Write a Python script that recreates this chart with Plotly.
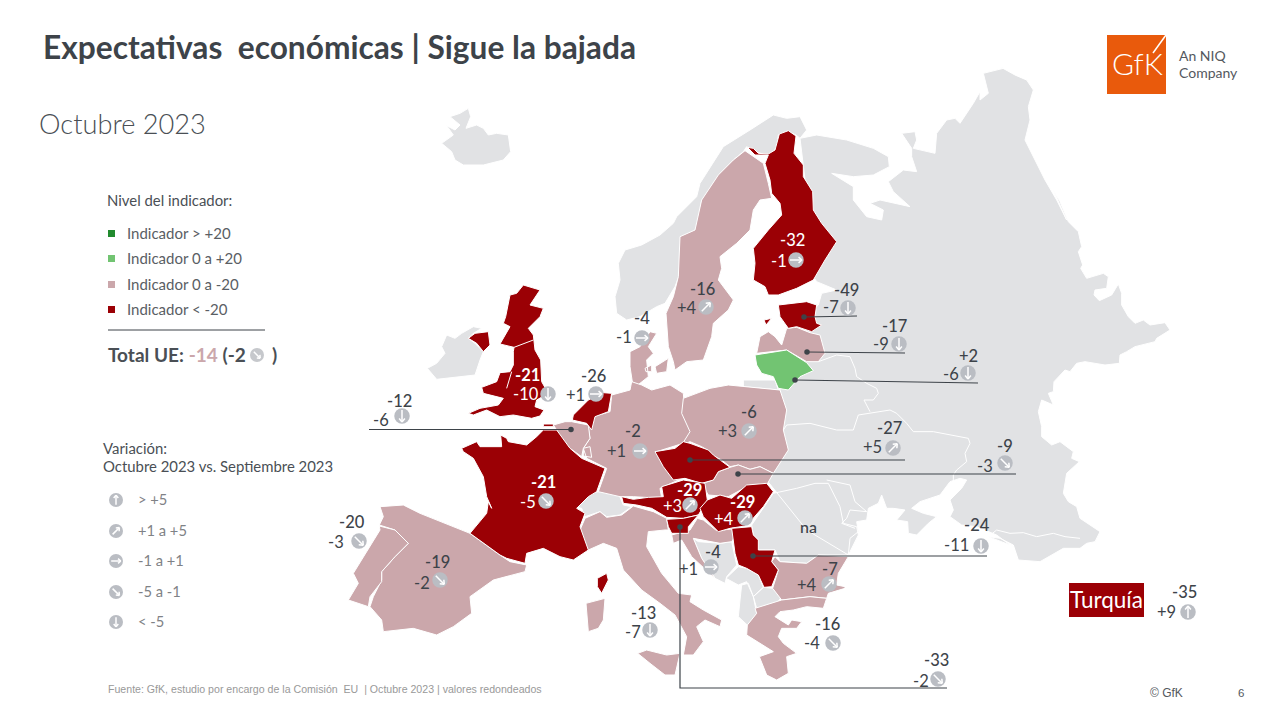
import math
import plotly.graph_objects as go

# ---------- data ----------
countries = ["Finlandia","Suecia","Dinamarca","Reino Unido","Países Bajos","Bélgica","Alemania","Polonia",
             "Estonia","Letonia","Lituania","Chequia","Eslovaquia","Austria","Hungría","Serbia","Bulgaria",
             "Grecia","Eslovenia","Croacia","Italia","Francia","España","Portugal","Turquía"]
index_values = [-32,-16,-4,-21,-26,-12,-2,-6,-49,-17,2,-27,-9,-29,-29,-24,-7,-16,-33,-4,-13,-21,-19,-20,-35]
delta_values = [-1,4,-1,-10,1,-6,1,3,-7,-9,-6,5,-3,3,4,-11,4,-4,-2,1,-7,-5,-2,-3,9]
legend_levels = ["Indicador > +20","Indicador 0 a +20","Indicador 0 a -20","Indicador < -20"]
legend_changes = ["> +5","+1 a +5","-1 a +1","-5 a -1","< -5"]

DARK,PINK,LIGHTG,DEEPG,LAND = "#9B0005","#CBA7AB","#72C472","#218A2E","#E1E2E4"
CIRC,TXT = "#BABDC3","#3D4349"

# centre of value text, centre of delta text, centre of circle
value_xy = [(792,241),(702,290),(642,319),(527,376),(593,377),(399,402),(633,432),(749,413),(846,291),(894,327),
            (968,357),(889,429),(1005,447),(689,491),(742,503),(977,526),(830,570),(827,625),(936,661),(713,553),
            (643,614),(543,483),(437,563),(352,523),(1184,593)]
delta_xy = [(779,262),(687,309),(624,338),(526,395),(575,396),(381,421),(616,452),(727,432),(831,308),(881,345),
            (951,375),(872,448),(985,467),(672,507),(724,520),(956,546),(807,586),(812,644),(921,682),(688,570),
            (633,633),(528,503),(422,584),(336,543),(1166,613)]
circle_xy = [(796,260),(706,307),(642,338),(548,394),(596,394),(402,416),(640,451),(749,431),(848,308),(899,344),
             (968,373),(893,448),(1005,463),(690,505),(745,518),(981,546),(829,584),(833,643),(938,679),(711,567),
             (650,630),(546,501),(440,580),(359,541),(1188,612)]
white_labels = {"Finlandia","Reino Unido","Austria","Hungría","Francia"}
bold_labels = {"Reino Unido","Austria","Hungría","Francia"}

A,B,C,D,E,F,G = (340,60),(340,380),(640,60),(640,380),(980,190),(780,470),(620,440)
def Z(o,pts):
    return [(o[0]+p[0]/3,o[1]+p[1]/3) for p in pts]

iceland = Z(A,[(305,250),(340,225),(320,197),(345,210),(360,195),(330,170),(360,160),(385,145),(392,170),(378,205),(410,195),(430,205),(445,225),(470,220),(505,225),(512,275),(490,300),(430,315),(370,315),(345,300),(335,275)])
ireland = Z(A,[(262,925),(290,910),(315,880),(305,860),(320,825),(345,835),(365,820),(400,800),(425,805),(400,820),(385,835),(405,850),(430,875),(420,900),(405,945),(360,950),(290,958)])
norway = Z(A,[(830,760),(825,710),(840,660),(835,610),(855,570),(905,555),(960,525),(1000,490)]) + Z(C,[(110,470),(170,410),(180,370),(250,260),(330,210),(400,165),(440,175),(480,170),(500,210),(480,235),(468,225),(445,215),(415,225),(410,265),(385,285),(340,275),(320,260),(310,275),(280,300),(240,340),(230,380),(185,420),(170,510),(125,530),(120,640),(105,680),(75,730),(50,740),(0,770),(-40,780),(-70,760)])
east_land = (Z(C,[(480,235),(530,225),(620,240),(700,265),(745,290),(748,320),(700,345),(640,350),(575,340),(640,380),(640,420),(680,470),(725,480),(730,450),(690,430),(720,420),(810,440),(760,395),(745,365),(790,330),(830,335),(815,290),(815,265),(785,220),(825,215),(830,240),(820,265),(885,280),(890,220),(920,180),(945,175),(960,190),(1000,130),(1020,95),(1020,120),(1045,100),(1030,40),(1090,25)])
  + Z((1000,20),[(0,140),(45,165),(80,180),(100,210),(85,260),(90,300),(75,360),(105,420),(135,480),(170,540),(200,600)])
  + Z(E,[(220,0),(240,35),(265,95),(295,125),(305,170),(295,185),(308,225),(302,235),(320,265),(370,250),(385,260),(380,295),(345,300),(342,315),(358,332),(395,315),(415,282),(425,310),(425,345),(445,380),(465,400),(490,390),(510,405),(555,398),(570,420),(530,445),(525,455),(490,465),(465,470),(440,485),(420,495),(418,520),(375,525),(315,515),(290,520),(270,545),(255,540),(222,575),(220,605),(205,610),(220,645),(185,630),(175,665),(185,710),(185,740),(215,765),(240,755),(280,785),(275,805),(298,815),(260,850),(250,910),(265,935),(290,950),(300,985),(360,1025),(345,1055),(320,1060),(300,1075),(250,1075),(180,1115),(115,1110),(100,1065),(60,1045),(25,1040)])
  + Z(F,[(690,225),(650,195),(590,170),(545,165),(510,140),(520,120),(510,90),(545,55),(560,30),(540,25),(510,35),(480,75),(420,95),(395,115),(430,130),(470,140),(445,160),(410,195),(385,190),(383,155),(350,150),(375,120),(340,115),(320,115),(305,75),(295,100),(265,115),(260,150),(230,155),(235,185),(210,205),(205,255)])
  + Z(D,[(500,450),(380,300),(420,100),(420,20)])
  + Z(C,[(500,860),(500,770),(535,735),(545,700),(590,690),(530,665),(520,650),(500,400)]))
sweden = Z(C,[(315,272),(370,310),(385,370),(395,415),(360,420),(340,450),(330,510),(290,550),(240,590),(245,625),(235,660),(250,680),(280,720),(265,750),(220,790),(215,830),(190,900),(140,905),(105,930),(100,905),(85,860),(78,760),(100,710),(115,650),(120,530),(165,510),(185,420),(235,345),(280,300)])
finland = Z(C,[(445,212),(468,228),(462,280),(490,315),(490,350),(518,395),(520,450),(545,490),(590,545),(555,600),(520,660),(470,685),(415,705),(385,705),(375,680),(340,660),(345,610),(340,565),(385,510),(425,465),(420,430),(395,400),(390,360),(375,310),(385,285),(345,285),(322,262),(340,265),(355,280),(385,282),(405,270),(418,222)])
estonia = Z(C,[(415,735),(500,725),(530,735),(525,770),(530,790),(545,795),(515,815),(470,800),(445,805),(420,770)])
estonia_isl = Z(C,[(372,780),(395,775),(378,795)])
latvia = Z(C,[(350,880),(360,830),(385,815),(405,830),(425,855),(440,805),(470,802),(510,818),(540,825),(555,880),(535,905),(500,905),(440,870),(395,875)])
lithuania = Z(C,[(345,885),(400,875),(440,870),(500,908),(520,932),(480,950),(445,990),(415,985),(400,950),(365,940),(350,915)])
kaliningrad = Z(D,[(310,0),(405,0),(415,30),(310,20)])
poland = Z(D,[(130,55),(210,25),(265,15),(310,20),(420,30),(440,90),(430,150),(445,210),(400,280),(360,260),(330,268),(295,255),(270,260),(245,240),(215,225),(210,215),(185,200),(150,185),(125,195),(150,155),(125,100)])
germany = Z(B,[(815,45),(870,30),(875,5),(905,15),(935,30),(990,15),(1030,40),(1035,100),(1060,160),(1045,185),(950,215),(1000,290),(1020,298),(960,325),(965,355),(880,350),(840,350),(775,335),(800,265),(740,235),(730,205),(750,175),(745,145),(760,110),(810,95)])
denmark = Z(A,[(870,875),(900,860),(930,815),(950,820),(925,860),(940,880),(920,900),(925,950),(900,970),(880,985),(870,920)])
dk_isl1 = Z(A,[(915,925),(935,915),(935,935),(918,935)])
dk_isl2 = Z(A,[(945,920),(985,895),(980,935),(950,940)])
netherlands = Z(B,[(815,40),(790,38),(745,60),(700,105),(697,120),(740,130),(755,150),(765,110),(805,95)])
belgium = Z(B,[(640,135),(675,125),(695,125),(745,135),(750,175),(730,205),(725,230),(690,205),(660,175),(650,150)])
luxembourg = Z(B,[(730,205),(750,200),(755,232),(730,228)])
france = Z(B,[(365,205),(410,185),(420,200),(485,200),(482,165),(500,175),(505,185),(560,195),(590,170),(610,150),(650,150),(690,205),(725,235),(795,265),(770,335),(745,350),(710,385),(735,400),(720,440),(745,510),(700,540),(660,530),(610,505),(560,520),(555,550),(500,535),(480,525),(390,460),(440,400),(445,365),(455,385),(440,350),(430,290),(400,235),(370,215)])
france_n = Z(B,[(610,132),(640,132),(640,140),(610,140)])
switzerland = Z(B,[(705,380),(750,340),(775,335),(835,340),(850,375),(875,380),(840,405),(800,410),(780,395),(735,410),(725,385)])
italy = Z(B,[(720,450),(735,415),(780,395),(800,412),(845,405),(880,378),(940,395),(980,415),(985,450),(975,450),(925,455),(920,500),(965,580),(1015,640),(1055,645),(1050,665),(1090,690),(1145,720),(1140,740),(1095,720),(1070,740),(1090,785),(1060,825),(1030,825),(1040,770),(1005,705),(960,670),(905,630),(850,570),(830,505),(790,490),(745,510),(722,490)])
sicily = Z(B,[(893,820),(920,810),(980,825),(1020,820),(1005,885),(975,885),(930,850)])
sardinia = Z(B,[(738,670),(795,655),(790,720),(775,745),(745,755)])
corsica = Z(B,[(772,595),(800,580),(805,600),(785,640),(772,620)])
spain = Z(B,[(120,380),(190,375),(240,400),(390,460),(480,525),(510,545),(560,555),(555,575),(460,600),(390,650),(395,700),(340,740),(290,765),(220,745),(130,755),(125,720),(90,680),(100,650),(125,600),(125,575),(165,530),(205,490),(165,450),(118,435),(130,410)])
portugal = Z(B,[(118,438),(165,450),(205,490),(165,530),(125,575),(125,605),(90,650),(85,680),(25,660),(55,610),(40,580),(90,500),(120,450)])
uk = Z(A,[(550,675),(600,690),(570,735),(610,745),(600,770),(565,805),(580,825),(585,870),(602,900),(605,965),(625,1000),(590,1020),(585,1040),(612,1050),(600,1068),(575,1075),(520,1065),(480,1070),(440,1050),(400,1065),(385,1060),(420,1045),(475,1035),(490,1015),(430,1000),(425,982),(470,965),(480,938),(510,935),(520,915),(520,875),(522,862),(480,852),(510,800),(490,790),(497,770),(510,705),(530,700)])
n_ireland = Z(A,[(385,835),(405,820),(445,815),(450,855),(430,875),(410,850)])
czechia = Z(D,[(45,215),(105,205),(130,185),(150,190),(205,210),(220,225),(270,262),(235,275),(220,300),(185,310),(135,295),(100,300),(70,260)])
slovakia = Z(D,[(270,262),(295,255),(330,268),(360,260),(400,280),(380,315),(330,315),(265,350),(205,345),(185,310),(220,300),(235,275)])
austria = Z(G,[(5,170),(40,178),(85,172),(130,170),(125,140),(190,120),(255,130),(262,180),(235,225),(190,235),(140,232),(95,205),(50,195),(10,190)])
slovenia = Z(G,[(140,238),(190,235),(235,225),(205,260),(205,280),(155,280),(145,260)])
hungary = Z(G,[(262,180),(300,165),(335,175),(380,135),(440,130),(460,155),(430,200),(395,240),(375,258),(330,265),(295,275),(250,230),(240,205)])
serbia = Z(D,[(275,445),(335,440),(340,465),(355,480),(355,510),(405,510),(395,545),(415,570),(395,620),(372,622),(355,585),(320,565),(295,555),(285,520)])
romania = Z(D,[(335,435),(400,340),(470,325),(525,310),(565,310),(600,380),(610,430),(650,440),(655,465),(630,515),(620,525),(535,525),(500,550),(420,545),(405,510),(355,510),(355,480),(340,465)])
bulgaria = Z(D,[(405,530),(420,545),(500,550),(535,525),(625,530),(595,580),(590,615),(615,620),(615,625),(565,640),(560,655),(510,650),(425,660),(398,625),(415,570),(395,545)])
greece = Z(D,[(345,685),(425,660),(510,650),(560,655),(550,685),(500,680),(460,690),(420,695),(405,710),(445,735),(455,720),(485,725),(470,745),(425,745),(415,770),(430,790),(470,820),(440,830),(445,880),(410,900),(380,885),(358,830),(400,815),(360,790),(320,765),(322,735),(350,700)])
albania = Z(D,[(305,615),(325,610),(340,650),(350,700),(325,738),(295,710),(300,660)])
macedonia = Z(D,[(340,650),(370,622),(400,625),(425,650),(410,670),(350,685)])
montenegro = Z(D,[(258,595),(295,560),(320,565),(355,585),(370,622),(340,650),(320,605),(295,615)])
bosnia = Z(D,[(160,475),(175,485),(240,490),(275,485),(290,555),(260,590),(255,610),(225,595),(185,535)])
croatia = Z(D,[(95,465),(100,490),(125,480),(155,530),(225,595),(185,535),(160,475),(240,490),(275,485),(285,470),(275,447),(230,452),(190,420),(172,415),(150,450)])

border_lines = [
  Z(D,[(430,150),(440,135),(510,130),(590,150),(640,150),(655,105),(750,90),(770,100),(800,130),(820,155),(880,155),(985,175),(990,190),(975,220),(980,245),(950,270),(940,285),(940,310)]),
  Z(C,[(535,905),(590,885),(630,890),(645,925),(650,950),(680,970),(710,985),(715,1000),(700,1020),(672,1020),(690,1055)]),
  Z(F,[(140,30),(210,45),(225,95),(260,125),(210,120),(200,145),(185,160),(225,175)]),
  Z(E,[(25,1040),(50,1020),(90,1030),(130,1028),(170,1040),(220,1030),(255,1040),(300,1045)]),
  Z(A,[(522,862),(580,840)]), Z(A,[(515,935),(500,985)]),
]

# connector lines: each ends on the country dot
conn_lines = [[(369,429.5),(571,429.5)],[(690,460),(905,460)],[(738,474),(1016,474)],[(753,556),(987,556)],
              [(680,527),(680,688),(947,688)],[(804,317),(857,316)],[(807,352),(905,353)],[(795,380),(978,383)]]
dots = [(571,429.5),(690,460),(738,474),(753,556),(680,527),(804,317),(807,352),(795,380)]

def level_color(v):
    return DEEPG if v>20 else LIGHTG if v>=0 else PINK if v>=-20 else DARK
V = dict(zip(countries,index_values))

fig = go.Figure()
def poly(polys,color,line="#FFFFFF",w=1):
    xs,ys=[],[]
    for p in polys:
        xs += [q[0] for q in p]+[p[0][0],None]
        ys += [q[1] for q in p]+[p[0][1],None]
    fig.add_trace(go.Scatter(x=xs,y=ys,mode="lines",fill="toself",fillcolor=color,
                             line=dict(color=line,width=w),hoverinfo="skip",showlegend=False))

poly([east_land,iceland,ireland,norway,kaliningrad,switzerland,romania,albania,macedonia,montenegro,bosnia],LAND)
poly([italy,sicily,sardinia],PINK)
poly([croatia],PINK)
for name,shapes_ in [("Suecia",[sweden]),("Dinamarca",[denmark,dk_isl1,dk_isl2]),("Alemania",[germany,luxembourg]),
                    ("Polonia",[poland]),("Letonia",[latvia]),("Lituania",[lithuania]),
                    ("Bulgaria",[bulgaria]),("Grecia",[greece]),("España",[spain]),("Portugal",[portugal]),
                    ("Bélgica",[belgium]),("Países Bajos",[netherlands]),("Francia",[france,france_n,corsica]),
                    ("Reino Unido",[uk,n_ireland]),("Finlandia",[finland]),("Estonia",[estonia,estonia_isl]),
                    ("Eslovaquia",[slovakia]),("Chequia",[czechia]),("Austria",[austria]),("Eslovenia",[slovenia]),
                    ("Hungría",[hungary]),("Serbia",[serbia])]:
    poly(shapes_,level_color(V[name]))
for p in border_lines:
    fig.add_trace(go.Scatter(x=[q[0] for q in p],y=[q[1] for q in p],mode="lines",line=dict(color="#FFFFFF",width=1),hoverinfo="skip",showlegend=False))

for p in conn_lines:
    fig.add_trace(go.Scatter(x=[q[0] for q in p],y=[q[1] for q in p],mode="lines",line=dict(color=TXT,width=1.2),hoverinfo="skip",showlegend=False))
fig.add_trace(go.Scatter(x=[d[0] for d in dots],y=[d[1] for d in dots],mode="markers",marker=dict(color=TXT,size=5.5),hoverinfo="skip",showlegend=False))

def direction(d):
    return "up" if d>5 else "ne" if d>1 else "e" if d>=-1 else "se" if d>=-5 else "down"
ANG={"up":-90,"ne":-45,"e":0,"se":45,"down":90}
def arrow_segments(cx,cy,a,r,out):
    t=math.radians(a); ux,uy=math.cos(t),math.sin(t)
    tip=(cx+ux*r,cy+uy*r); tail=(cx-ux*r,cy-uy*r)
    out.append([tail,tip])
    for s in (140,-140):
        k=math.radians(a+s)
        out.append([tip,(tip[0]+math.cos(k)*r*0.75,tip[1]+math.sin(k)*r*0.75)])

segs=[]
for (cx,cy),d in zip(circle_xy,delta_values):
    arrow_segments(cx,cy,ANG[direction(d)],6,segs)

leg_y=[500,531,561,592,622]; leg_dirs=["up","ne","e","se","down"]
total_circle=(257,355)
for y,dr in zip(leg_y,leg_dirs):
    arrow_segments(116,y,ANG[dr],4.8,segs)
arrow_segments(total_circle[0],total_circle[1],ANG["se"],4.5,segs)

fig.add_trace(go.Scatter(x=[c[0] for c in circle_xy],y=[c[1] for c in circle_xy],mode="markers",marker=dict(color=CIRC,size=15.5),hoverinfo="skip",showlegend=False))
fig.add_trace(go.Scatter(x=[116]*5,y=leg_y,mode="markers",marker=dict(color=CIRC,size=14),hoverinfo="skip",showlegend=False))
fig.add_trace(go.Scatter(x=[total_circle[0]],y=[total_circle[1]],mode="markers",marker=dict(color="#C6C8CC",size=14),hoverinfo="skip",showlegend=False))
sx,sy=[],[]
for s in segs:
    sx+=[s[0][0],s[1][0],None]; sy+=[s[0][1],s[1][1],None]
fig.add_trace(go.Scatter(x=sx,y=sy,mode="lines",line=dict(color="#FFFFFF",width=1.5),hoverinfo="skip",showlegend=False))

fig.add_trace(go.Scatter(x=[111.5]*4,y=[233.5,258.5,284.5,309.5],mode="markers",
    marker=dict(symbol="square",size=7,color=[DEEPG,LIGHTG,PINK,DARK]),hoverinfo="skip",showlegend=False))
fig.add_trace(go.Scatter(x=[108,265],y=[330,330],mode="lines",line=dict(color=TXT,width=1),hoverinfo="skip",showlegend=False))

shapes=[dict(type="rect",x0=1107,x1=1166,y0=35,y1=94,xref="x",yref="y",fillcolor="#E95A0C",line_width=0,layer="above"),
        dict(type="line",x0=1166,x1=1153,y0=35,y1=53,xref="x",yref="y",line=dict(color="#FFFFFF",width=1.5),layer="above"),
        dict(type="rect",x0=1069,x1=1144,y0=583,y1=617,xref="x",yref="y",fillcolor=DARK,line_width=0,layer="above")]

ann=[]
def T(x,y,t,size=14,color=TXT,anchor="left",family="Lato",weight=None):
    f=dict(family=family,size=size,color=color)
    if weight: f["weight"]=weight
    ann.append(dict(x=x,y=y-0.8,text=t,xref="x",yref="y",showarrow=False,xanchor=anchor,yanchor="middle",font=f,borderpad=0,borderwidth=0))

def sgn(v):
    return f"+{v}" if v>0 else str(v)
for n,v,dl,vp,dp in zip(countries,index_values,delta_values,value_xy,delta_xy):
    col="#FFFFFF" if n in white_labels else TXT
    T(vp[0],vp[1],sgn(v),16.5,col,"center",weight=700 if n in bold_labels else 500)
    T(dp[0],dp[1],sgn(dl),16.5,col,"center")
T(808,527,"na",16,TXT,"center",weight=500)

T(43,48,"Expectativas\u00a0 económicas | Sigue la bajada",31.7,TXT,weight=700)
T(39,124,"Octubre 2023",27.2,"#4A4F55",weight=300)
T(107,201,"Nivel del indicador:",14.9,"#4A4F55")
for y,t in zip([233.5,258.5,284.5,309.5],legend_levels):
    T(127,y,t,15,"#5A5E64")
T(108,355,f"<b>Total UE:</b> <b><span style='color:{PINK}'>-14</span> (-2</b>",19,"#4A4F55")
T(272,355,"<b>)</b>",19,"#4A4F55")
T(103,449,"Variación:",14.9,"#4A4F55")
T(103,467,"Octubre 2023 vs. Septiembre 2023",14.9,"#4A4F55")
for y,t in zip(leg_y,legend_changes):
    T(138,y,t,14.7,"#7F8286")
T(1106.5,600,"Turquía",22.5,"#FFFFFF","center")
T(1137,64,"GfK",30,"#FFFFFF","center",weight=300)
T(1179,56,"An NIQ",14,"#54585E")
T(1179,73,"Company",14,"#54585E")
T(108,690,"Fuente: GfK, estudio por encargo de la Comisión\u00a0 EU\u00a0 | Octubre 2023 | valores redondeados",10.6,"#999999",family="Liberation Sans")
T(1150,694,"© GfK",12,"#54585E",family="Liberation Sans")
T(1241,694,"6",11.5,"#54585E","center",family="Liberation Sans")

fig.update_layout(width=1280,height=720,margin=dict(l=0,r=0,t=0,b=0),paper_bgcolor="#FFFFFF",plot_bgcolor="#FFFFFF",
    xaxis=dict(range=[0,1280],visible=False,fixedrange=True),
    yaxis=dict(range=[720,0],visible=False,fixedrange=True),
    shapes=shapes,annotations=ann,showlegend=False,hovermode=False)
fig.write_html("out.html",config=dict(displayModeBar=False),
    post_script="document.body.style.margin='0';document.body.style.overflow='hidden';")
